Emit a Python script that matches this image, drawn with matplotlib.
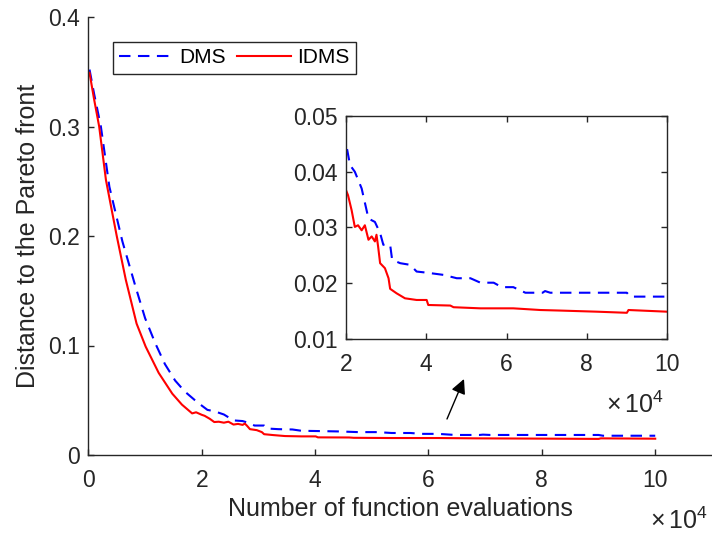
import matplotlib
matplotlib.use('Agg')
import matplotlib.pyplot as plt

plt.rcParams['font.family'] = ['Liberation Sans', 'DejaVu Sans']
plt.rcParams['mathtext.fontset'] = 'custom'
plt.rcParams['mathtext.rm'] = 'Liberation Sans'

# ---------- data (x in units of 1e4 evaluations) ----------
dms_x = [0.02, 0.1, 0.22, 0.37, 0.6, 0.83, 1.0, 1.18, 1.35, 1.53, 1.7, 1.88, 2.0, 2.1, 2.22,
         2.39, 2.56, 2.72, 2.85, 2.93, 3.1, 3.15, 3.35, 3.6, 3.76, 4.01, 4.43, 4.76, 5.1, 5.35,
         5.68, 5.88, 6.17, 6.47, 6.9, 6.96, 7.09, 9.0, 9.08, 10.0]
dms_y = [0.352, 0.33, 0.30, 0.245, 0.195, 0.154, 0.125, 0.102, 0.083, 0.068, 0.058, 0.050,
         0.0451, 0.0412, 0.040, 0.037, 0.0316, 0.031, 0.029, 0.0269, 0.0269, 0.0242, 0.0236,
         0.0233, 0.0221, 0.0219, 0.0215, 0.0209, 0.0209, 0.0201, 0.0201, 0.0193, 0.0193,
         0.0183, 0.0183, 0.0186, 0.0183, 0.0183, 0.0176, 0.0176]

idms_x = [0.02, 0.1, 0.19, 0.31, 0.5, 0.66, 0.85, 1.01, 1.24, 1.48, 1.65, 1.83, 1.9, 2.0, 2.05,
          2.14, 2.22, 2.3, 2.39, 2.47, 2.56, 2.64, 2.72, 2.76, 2.8, 2.85, 2.97, 3.06, 3.1, 3.26,
          3.47, 3.76, 4.01, 4.05, 4.6, 4.68, 5.35, 6.17, 6.84, 7.34, 8.25, 9.0, 9.04, 10.0]
idms_y = [0.349, 0.325, 0.30, 0.251, 0.2, 0.160, 0.12, 0.099, 0.075, 0.056, 0.046, 0.038, 0.039,
          0.0367, 0.0358, 0.0331, 0.0301, 0.0304, 0.0295, 0.0304, 0.0278, 0.0284, 0.0275,
          0.0287, 0.0266, 0.0236, 0.0227, 0.0209, 0.019, 0.0182, 0.0173, 0.0170, 0.0170,
          0.0161, 0.0160, 0.0157, 0.0155, 0.0155, 0.0152, 0.0151, 0.0149, 0.0147, 0.0152, 0.0149]

main_xticks = [0, 2, 4, 6, 8, 10]
main_yticks = [0, 0.1, 0.2, 0.3, 0.4]
inset_xticks = [2, 4, 6, 8, 10]
inset_yticks = [0.01, 0.02, 0.03, 0.04, 0.05]

axc = '#262626'
W, H = 712, 535

fig = plt.figure(figsize=(7.12, 5.35), dpi=100)

# ---------- main axes ----------
ax = fig.add_axes([88.4 / W, (H - 455) / H, 623.5 / W, 438 / H])
ax.plot(dms_x, dms_y, color='b', ls=(0, (5.5, 3.6)), lw=1.5, label='DMS')
ax.plot(idms_x, idms_y, color='r', lw=1.5, label='IDMS')
ax.set_xlim(0, 11)
ax.set_ylim(0, 0.4)
ax.set_xticks(main_xticks)
ax.set_xticklabels([str(t) for t in main_xticks])
ax.set_yticks(main_yticks)
ax.set_yticklabels(['0', '0.1', '0.2', '0.3', '0.4'])
for s in ['top', 'right']:
    ax.spines[s].set_visible(False)
for s in ['left', 'bottom']:
    ax.spines[s].set_color(axc)
    ax.spines[s].set_linewidth(1.0)
ax.tick_params(direction='in', length=4, width=1.0, colors=axc, labelsize=16.5, pad=6)
ax.tick_params(axis='x', pad=10)
ax.set_xlabel('Number of function evaluations', fontsize=18, color=axc, labelpad=4)
ax.set_ylabel('Distance to the Pareto front', fontsize=18, color=axc, labelpad=6)

leg = ax.legend(ncol=2, loc='upper left', bbox_to_anchor=(113 / W, 1 - 42 / H),
                bbox_transform=fig.transFigure, borderaxespad=0, fontsize=15,
                handlelength=2.6, handletextpad=0.3, columnspacing=0.5,
                borderpad=0.3, fancybox=False, framealpha=1)
leg.get_frame().set_edgecolor(axc)
leg.get_frame().set_linewidth(1.0)

fig.text(708 / W, 1 - 529 / H, r'$\mathregular{\times\,10^{4}}$', ha='right', va='baseline',
         fontsize=18, color=axc)

# ---------- inset axes ----------
ins = fig.add_axes([346 / W, (H - 339) / H, 321 / W, 223 / H])
ins.plot(dms_x, dms_y, color='b', ls=(0, (5.5, 3.6)), lw=1.5)
ins.plot(idms_x, idms_y, color='r', lw=1.5)
ins.set_xlim(2, 10)
ins.set_ylim(0.01, 0.05)
ins.set_xticks(inset_xticks)
ins.set_xticklabels([str(t) for t in inset_xticks])
ins.set_yticks(inset_yticks)
ins.set_yticklabels(['0.01', '0.02', '0.03', '0.04', '0.05'])
for s in ins.spines.values():
    s.set_color(axc)
    s.set_linewidth(1.0)
ins.tick_params(direction='in', length=4, width=1.0, colors=axc, labelsize=16.5,
                top=True, right=True, pad=6)
ins.tick_params(axis='x', pad=10)
fig.text(664 / W, 1 - 413 / H, r'$\mathregular{\times\,10^{4}}$', ha='right', va='baseline',
         fontsize=18, color=axc)

# ---------- arrow ----------
ax.annotate('', xy=(464 / W, 1 - 379 / H), xytext=(447 / W, 1 - 419 / H),
            xycoords='figure fraction', textcoords='figure fraction',
            arrowprops=dict(arrowstyle='-|>', mutation_scale=22, lw=1, color='k',
                            shrinkA=0, shrinkB=0))

fig.savefig('out.png', dpi=100)
